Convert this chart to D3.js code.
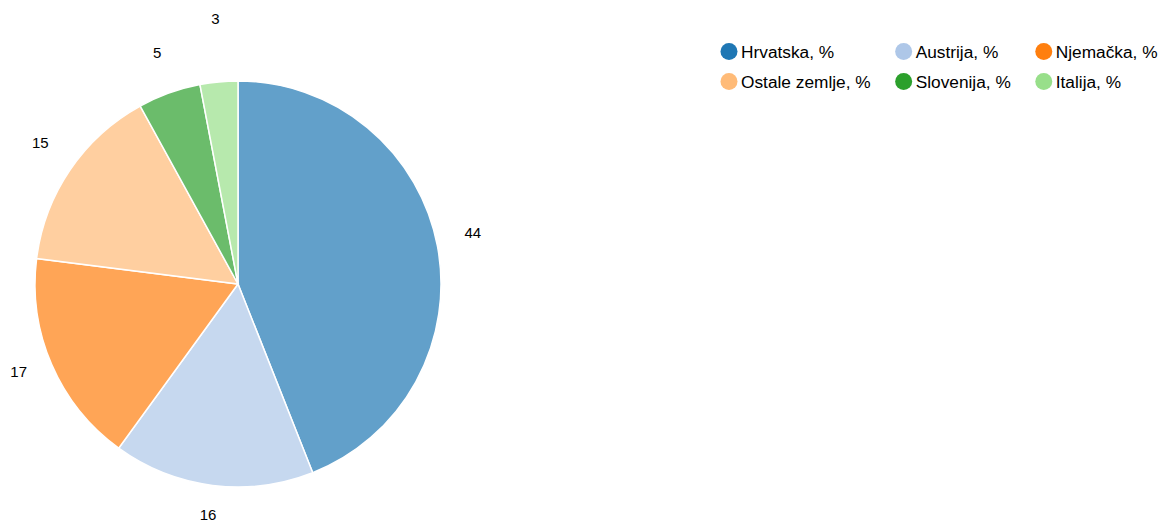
<!DOCTYPE html>
<html><head><meta charset="utf-8">
<script src="https://cdn.jsdelivr.net/npm/d3@7"></script>
<style>body{margin:0;background:#fff;}svg{display:block;font-family:"Liberation Sans",Arial,sans-serif;}</style>
</head><body>
<svg id="chart" width="1169" height="524"></svg>
<script>
const categories = ["Hrvatska, %", "Austrija, %", "Njemačka, %", "Ostale zemlje, %", "Slovenija, %", "Italija, %"];
const values = [44, 16, 17, 15, 5, 3];
const colors = ["#1f77b4", "#aec7e8", "#ff7f0e", "#ffbb78", "#2ca02c", "#98df8a"];

const data = categories.map((c, i) => ({name: c, value: values[i], color: colors[i]}));
const svg = d3.select("#chart");
const cx = 238, cy = 284, R = 203, labelR = 239;

const pie = d3.pie().value(d => d.value).sort(null);
const arc = d3.arc().innerRadius(0).outerRadius(R);
const labelArc = d3.arc().innerRadius(labelR).outerRadius(labelR);
const arcs = pie(data);

const g = svg.append("g").attr("transform", `translate(${cx},${cy})`);
g.selectAll("path").data(arcs).join("path")
  .attr("d", arc)
  .attr("fill", d => d.data.color)
  .attr("fill-opacity", 0.7)
  .attr("stroke", "#fff")
  .attr("stroke-width", 1.5);

// label positions with simple vertical collision avoidance
const pos = arcs.map(a => { const c = labelArc.centroid(a); return [c[0], c[1] - 7]; });
for (let i = 1; i < pos.length; i++) {
  const p = pos[i - 1], q = pos[i];
  if (Math.abs(q[0] - p[0]) < 70 && Math.abs(q[1] - p[1]) < 34 && q[1] < 0) {
    q[1] = p[1] - 34;
  }
}
g.selectAll("text.lbl").data(arcs).join("text")
  .attr("class", "lbl")
  .attr("x", (d, i) => pos[i][0])
  .attr("y", (d, i) => pos[i][1])
  .attr("text-anchor", "middle")
  .attr("dominant-baseline", "central")
  .attr("font-size", 15)
  .attr("fill", "#000")
  .text(d => d.data.value);

// legend
const lg = svg.append("g");
const cols = 3, x0 = 729, y0 = 51.5, rowH = 30, fs = 17.3;
const items = lg.selectAll("g").data(data).join("g");
items.append("circle").attr("r", 8.5).attr("fill", d => d.color);
items.append("text").attr("x", 12).attr("dy", "0.35em").attr("font-size", fs).attr("fill", "#000").text(d => d.name);
const widths = [];
items.each(function(d, i) {
  const w = d3.select(this).select("text").node().getComputedTextLength();
  const c = i % cols;
  widths[c] = Math.max(widths[c] || 0, w);
});
const colX = [x0];
for (let c = 1; c < cols; c++) colX[c] = colX[c - 1] + 12 + widths[c - 1] + 33;
items.attr("transform", (d, i) => `translate(${colX[i % cols]},${y0 + Math.floor(i / cols) * rowH})`);
</script>
</body></html>
